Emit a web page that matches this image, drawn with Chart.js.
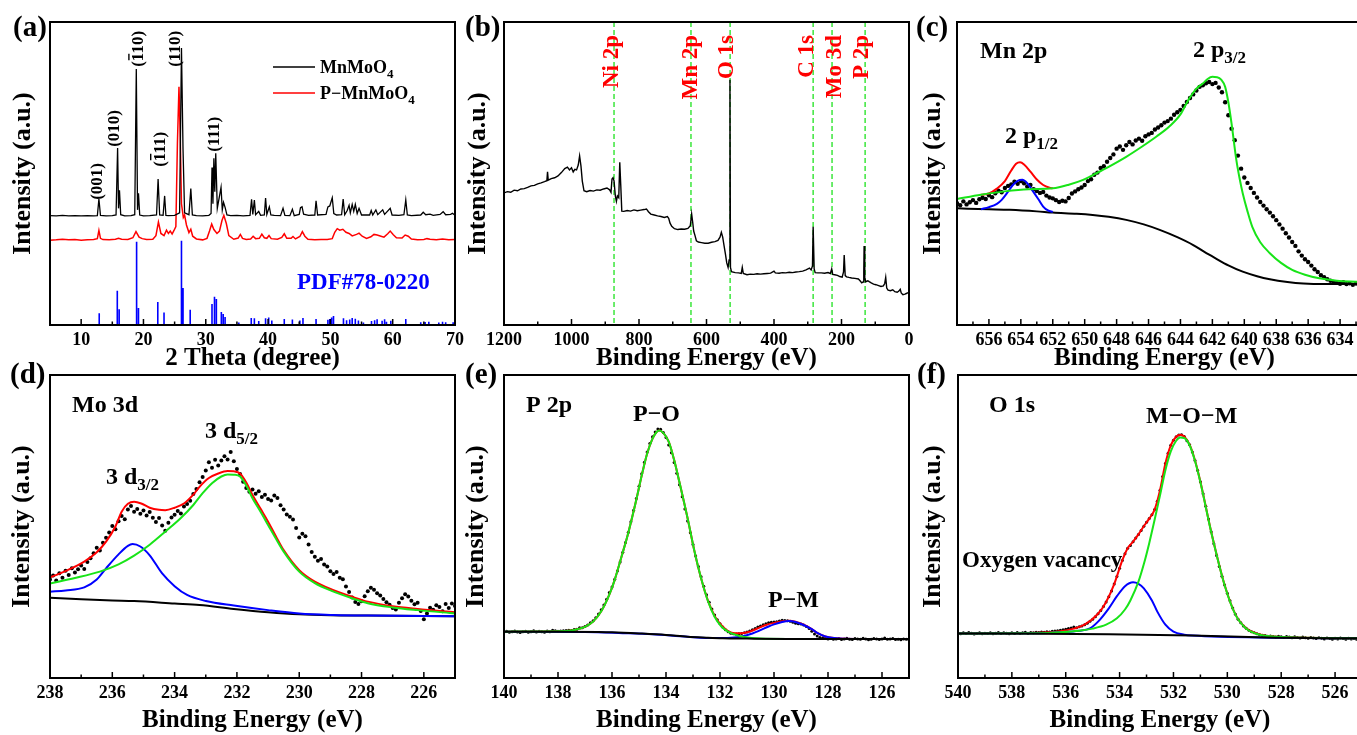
<!DOCTYPE html>
<html>
<head>
<meta charset="utf-8">
<title>MnMoO4 XRD / XPS</title>
<script src="https://cdn.jsdelivr.net/npm/chart.js@4.4.1/dist/chart.umd.min.js"></script>
<style>
  html, body { margin: 0; padding: 0; background: #fff; width: 1357px; height: 735px; overflow: hidden; position: relative; }
  canvas { position: absolute; }
</style>
</head>
<body>
<canvas id="panelA"></canvas>
<canvas id="panelB"></canvas>
<canvas id="panelC"></canvas>
<canvas id="panelD"></canvas>
<canvas id="panelE"></canvas>
<canvas id="panelF"></canvas>
<script>
// ---------- (a) XRD ----------
const mnmoo4Xrd = [[5,36.1],[6,36.0],[7,36.2],[8,36.0],[9,36.1],[10,36.0],[11,36.1],[12,36.0],[12.6,36.1],[12.85,41.6],[13.1,36.2],[14,36.0],[15,36.1],
  [15.6,36.3],[15.85,58.4],[16.0,38.5],[16.15,44.5],[16.35,36.4],[17,36.0],[18,36.1],[18.6,36.4],[18.85,84.5],[19.05,38],[19.2,43.5],[19.4,36.3],
  [20,36.0],[21,36.1],[22.1,36.3],[22.35,48.2],[22.6,36.3],[23.15,36.2],[23.4,42.6],[23.6,36.2],[24,36.1],[25,36.2],[25.8,37],[26.1,91.4],[26.35,58],
  [26.6,37],[27.3,36.4],[27.6,45],[27.85,36.3],[28.5,36.1],[29.5,36.0],[30.5,36.2],[30.85,36.8],[31.0,52],[31.15,40],[31.3,55],[31.45,44],[31.6,56.7],
  [31.85,38.5],[32.45,45.4],[32.65,38],[32.85,40.5],[33.1,38.8],[33.4,36.3],[34,36.1],[35,36.2],[36,36.0],[37.1,36.2],[37.35,41.5],[37.55,36.5],
  [37.8,41.2],[38.0,36.4],[38.5,37.5],[38.8,36.2],[39.4,36.3],[39.6,41.9],[39.8,36.5],[40.2,39],[40.45,36.3],[41,36.2],[42,36.1],[42.4,38.5],[42.7,36.2],
  [43.5,36.1],[43.9,38.2],[44.2,36.1],[45,36.5],[45.2,38.7],[45.45,39],[45.7,36.6],[46.5,36.2],[47.5,36.3],[47.7,41],[47.95,36.3],[49.3,36.5],[49.6,39],
  [49.9,39.3],[50.3,42],[50.55,36.8],[51,36.3],[51.8,36.4],[52.05,41.6],[52.3,36.4],[52.7,37.8],[53.0,39.5],[53.2,37],[53.5,39.8],[53.75,37.5],[54.0,39.8],
  [54.3,36.8],[54.6,38.5],[55,36.3],[56.3,36.3],[56.55,37.8],[56.8,36.3],[57.3,38],[57.6,36.4],[58.4,38],[58.7,36.5],[59.6,38.5],[59.9,36.3],[61,36.2],
  [61.8,36.4],[62.1,41.3],[62.35,36.3],[63,36.1],[64.5,36.3],[64.9,37.2],[65.3,36.4],[66,36.6],[66.5,36.2],[67.6,36.5],[68.1,37.4],[68.5,36.4],
  [69.3,36.5],[69.6,36.9],[70,36.2]];

const pMnmoo4Xrd = [[5,28.0],[6,28.1],[7,28.3],[8,28.1],[9,28.2],[10,28.0],[11,28.1],[12,28.2],[12.6,28.5],[12.85,31.2],[13.1,28.6],[13.5,28.2],
  [14.5,28.1],[15.5,28.3],[16,28.6],[16.5,28.3],[17.5,28.2],[18.3,28.8],[18.8,30.8],[19.3,29.0],[19.8,28.5],[20.5,28.2],[21.5,28.3],[22.0,29.5],
  [22.4,34.0],[22.8,30.2],[23.3,29.5],[23.7,31.3],[24.0,30.2],[24.3,31.0],[24.6,30.0],[24.9,31.2],[25.2,32.5],[25.45,60],[25.7,78.6],[25.9,62],
  [26.1,40],[26.4,35.5],[26.6,36.3],[26.9,33],[27.3,30.5],[27.6,31.6],[27.9,29.3],[28.5,28.4],[29.5,28.1],[30.2,28.6],[30.6,31],[30.95,33.3],
  [31.3,31.5],[31.8,30.2],[32.2,31],[32.6,34.5],[32.9,36.2],[33.3,33.5],[33.7,29.5],[34.5,28.3],[35.2,28.7],[35.55,29.9],[35.9,28.6],[36.5,28.2],
  [37.2,28.4],[37.6,29.3],[38.0,28.5],[38.6,28.6],[39.0,30.0],[39.4,28.8],[39.8,28.6],[40.15,29.5],[40.5,28.5],[41.5,28.3],[42.2,28.9],[42.6,30.1],
  [43.0,28.6],[43.7,28.6],[44.0,29.2],[44.4,28.4],[45.1,29.2],[45.5,30.8],[45.9,29.3],[46.4,28.3],[47.5,28.1],[48.5,28.2],[49.5,28.2],[50.3,28.5],
  [50.7,30.6],[51.1,31.8],[51.5,31.3],[52,31.6],[52.5,30.6],[53,30.2],[53.5,29.4],[54.2,29.9],[54.6,30.3],[55.1,29.3],[55.8,28.6],[56.5,29.1],
  [57.0,29.9],[57.5,29.7],[58.0,29.4],[58.6,29.0],[59.2,30.1],[59.6,31.0],[60.1,29.8],[60.6,28.8],[61.5,28.7],[62.0,29.7],[62.5,29.3],[63.0,28.4],
  [64,28.1],[65,28.2],[65.5,28.5],[66,28.3],[67,28.1],[68,28.4],[69,28.1],[70,28.2]];

// PDF#78-0220 reference lines
const pdfPos = [12.9,15.8,16.1,18.9,19.2,22.3,23.3,26.1,26.35,27.5,31.0,31.4,31.7,32.5,32.8,33.1,35.3,37.3,37.8,38.5,39.6,40.1,40.6,42.6,43.9,
  45.1,45.6,47.7,49.6,49.9,50.2,50.5,52.1,52.6,53.1,53.5,54.0,54.5,55.3,56.6,57.1,57.5,58.3,58.7,59.0,59.7,62.1,64.5,65.2,65.8,67.4,68.0,68.5,69.7];
const pdfInt = [3.9,11.3,5.2,27.5,5.6,7.6,4.1,27.8,12.2,5.0,6.9,9.3,8.6,4.3,3.6,2.6,0.8,2.3,2.2,1.3,2.2,2.5,1.5,2.0,1.8,
  1.5,2.3,2.0,1.7,2.0,2.5,3.0,2.2,1.6,1.8,2.3,2.1,1.5,0.8,1.3,1.6,1.9,1.4,1.9,1.1,1.4,2.0,0.9,1.0,1.1,0.8,1.1,0.9,0.9];

const xrdLabels = [10, 20, 30, 40, 50, 60, 70];
const xrdMinor = [15, 25, 35, 45, 55, 65];
const hklTags = [
  {x: 12.6, y: 41.3, t: '(001)', bar: -1},
  {x: 15.4, y: 58.8, t: '(010)', bar: -1},
  {x: 19.3, y: 85.2, t: '(110)', bar: 1},
  {x: 22.8, y: 52.2, t: '(111)', bar: 1},
  {x: 25.2, y: 85.2, t: '(110)', bar: -1},
  {x: 31.4, y: 57.2, t: '(111)', bar: -1}
];

// ---------- (b) survey ----------
const survey = [[1200,43.6],[1190,44.0],[1180,43.8],[1170,44.5],[1160,44.3],[1150,44.9],[1140,45.0],[1130,45.4],[1120,45.9],[1110,46.1],[1100,46.6],
  [1090,46.9],[1080,47.3],[1073,47.6],[1071,50.6],[1069,47.8],[1060,48.3],[1050,48.6],[1040,49.2],[1030,50.3],[1020,51.6],[1012,52.1],[1006,51.2],
  [1000,51.9],[995,50.5],[990,51.4],[985,51.2],[980,52.8],[976,55.8],[972,52.5],[968,47.5],[963,44.3],[955,44.0],[945,44.4],[935,44.2],[925,44.6],
  [915,44.5],[905,44.9],[895,45.2],[887,44.6],[883,43.8],[880,48.2],[877,48.6],[874,47.6],[870,42.5],[867,40.8],[864,42.6],[860,42.0],[857,53.7],
  [854,46.0],[851,37.6],[845,37.5],[835,37.8],[825,37.6],[815,38.0],[805,37.7],[795,37.9],[785,38.1],[778,38.3],[772,37.4],[765,36.6],[755,36.3],
  [745,36.0],[735,35.8],[725,35.5],[716,35.8],[712,35.2],[708,33.6],[703,32.6],[695,31.8],[685,31.5],[675,31.7],[665,31.6],[655,31.9],[648,32.8],
  [644,36.6],[641,34.0],[638,31.0],[634,29.5],[630,27.8],[624,27.4],[615,27.2],[605,27.0],[595,27.0],[585,27.3],[575,27.5],[566,27.9],[560,29.0],
  [556,30.6],[552,29.0],[548,26.2],[544,23.5],[540,20.5],[536,19.0],[533,21.5],[530.5,80.9],[529,19.0],[526,17.6],[515,17.3],[505,17.2],[497,17.0],
  [494,19.0],[491,17.0],[480,16.6],[470,16.8],[460,16.7],[450,16.9],[440,16.8],[430,16.9],[420,17.0],[410,17.1],[400,17.8],[396,17.2],[385,17.1],
  [375,17.3],[365,17.2],[355,17.4],[345,17.3],[335,17.5],[325,17.6],[315,17.8],[305,18.2],[295,18.8],[290,18.2],[286,19.5],[284,32.4],[281,18.5],
  [278,17.3],[270,17.2],[260,17.2],[250,17.1],[240,17.3],[233,17.0],[229,18.5],[226,16.7],[220,16.6],[212,16.4],[205,16.0],[198,15.8],[194,17.5],
  [192,23.1],[189,16.3],[185,15.9],[178,15.7],[170,15.5],[160,15.4],[150,15.2],[145,14.6],[140,13.9],[136,14.2],[134,17.5],[133,26.1],[131,15.5],
  [128,14.3],[122,14.6],[118,14.3],[112,13.9],[105,13.5],[98,13.3],[90,13.0],[83,12.7],[76,12.9],[72,13.7],[69,15.7],[66,12.2],[62,11.5],[55,11.3],
  [48,11.6],[42,11.0],[35,10.8],[30,11.2],[26,11.8],[23,10.6],[18,10.0],[12,10.2],[8,10.4],[4,10.6],[0,10.8]];
const surveyLines = [874, 646, 530, 284, 228, 130];
const surveyTags = [{e: 880, t: 'Ni 2p'}, {e: 646, t: 'Mn 2p'}, {e: 539, t: 'O 1s'}, {e: 302, t: 'C 1s'}, {e: 219, t: 'Mo 3d'}, {e: 139, t: 'P 2p'}];
const surveyLabels = [1200, 1000, 800, 600, 400, 200, 0];
const surveyMinor = [1100, 900, 700, 500, 300, 100];

// ---------- (c) Mn 2p ----------
const mnDots = [40.2,39.5,40.8,39.8,40.5,41.2,40.3,41.5,42.0,41.6,
  42.8,42.2,43.5,44.3,43.8,45.2,45.9,46.4,47.3,46.6,
  47.5,46.8,45.7,46.2,44.8,44.2,43.6,43.9,42.7,42.1,
  41.8,41.2,40.6,41.0,40.8,41.9,43.4,44.1,44.8,45.4,
  46.2,47.5,48.1,49.6,50.3,51.8,52.4,53.9,55.1,56.3,
  58.2,58.9,57.8,59.3,60.4,59.6,60.9,61.5,60.8,62.3,
  62.9,63.4,64.5,65.2,65.9,66.8,67.3,68.1,69.4,70.2,
  71.0,72.3,73.6,74.9,76.1,77.4,78.6,79.1,79.8,80.2,
  79.5,79.9,78.4,76.8,73.5,69.2,64.8,61.0,55.9,51.6,
  48.7,46.9,45.2,43.6,42.1,40.6,39.4,38.2,37.1,35.9,
  34.6,33.2,31.8,30.3,28.9,27.4,26.1,24.3,22.9,21.7,
  20.8,19.6,18.4,17.5,16.4,15.8,15.1,14.6,14.2,13.9,
  13.6,14.1,13.5,13.8,13.3,13.7];
const mnBg = [[658,38.5],[656,38.2],[654.7,38.0],[653,37.5],[652,37.1],[650.5,36.7],[649.5,36.3],[648.5,35.7],[647.4,34.7],[646.3,33.2],
  [645.3,31.4],[644.2,29.0],[643.2,26.4],[642.5,24.1],[641.8,22.0],[641,19.7],[640.1,17.6],[639.2,16.1],[638.4,15.1],[637.3,14.2],[636.3,13.7],
  [635,13.5],[632,13.5]];
const mnP32 = [[658,41.6],[656.5,43.0],[655,44.1],[653.5,44.8],[652,45.1],[651,46.3],[650.1,47.9],[649.3,50.0],[648.5,52.2],[647.4,55.5],
  [646.4,58.9],[645.5,62.2],[644.7,65.5],[644,69.5],[643.5,74.3],[643,78.0],[642.6,79.7],[642.3,81.2],[642.0,81.9],[641.7,81.8],[641.45,81.0],
  [641.2,78.6],[641.0,73.5],[640.8,66.5],[640.5,54.5],[640.3,48.5],[640.1,43.5],[639.8,37.5],[639.5,32.4],[639,27.3],[638.4,23.7],[637.7,20.5],
  [637.0,18.2],[636.2,16.6],[635.3,15.4],[634.2,14.6],[633,14.3],[632,14.1]];
const mnP12 = [[656.5,38.2],[656,38.9],[655.5,40.0],[655.2,41.3],[654.8,44.0],[654.5,46.2],[654.2,47.6],[653.9,47.9],[653.6,46.8],[653.3,44.6],
  [652.9,41.5],[652.6,39.1],[652.3,37.8],[652,37.3]];
const mnSum = [[656.5,43.0],[656,43.4],[655.5,45.0],[655,47.5],[654.6,51],[654.3,53.2],[654.05,53.7],[653.8,53.0],[653.4,50.6],[653.0,48.0],
  [652.6,46.2],[652.2,45.3],[652.0,45.1]];
const mnLabels = [656, 654, 652, 650, 648, 646, 644, 642, 640, 638, 636, 634];
const mnMinor = [657, 655, 653, 651, 649, 647, 645, 643, 641, 639, 637, 635, 633];

// ---------- (d) Mo 3d ----------
const moDots = [32.5,33.8,32.2,34.6,33.1,35.4,34.0,36.2,34.8,35.9,
  37.1,36.0,38.3,39.5,41.2,43.0,42.1,44.6,46.3,48.0,
  50.2,49.1,51.7,53.5,52.4,55.6,56.8,54.9,55.8,54.2,
  55.3,53.6,54.8,52.9,51.5,52.8,50.3,48.6,51.2,53.0,
  53.9,55.1,54.3,56.6,57.4,58.5,60.7,62.4,64.6,66.3,
  68.5,71.2,69.4,72.0,70.1,71.8,73.2,72.1,74.6,71.5,
  69.0,67.3,64.8,62.7,61.5,62.2,60.8,61.6,59.7,60.5,
  59.1,58.6,60.2,59.4,57.0,55.6,54.0,53.2,52.3,49.5,
  46.4,47.6,46.8,44.1,41.6,40.0,38.7,39.3,37.5,36.8,
  35.2,34.3,35.0,33.1,32.6,30.2,28.4,26.6,25.1,24.4,
  25.3,27.0,28.6,29.8,29.1,28.0,27.2,26.1,25.0,24.2,
  23.1,22.6,24.8,26.3,27.6,26.9,25.5,24.3,24.8,22.1,
  19.4,21.3,23.2,22.5,24.0,23.4,22.0,24.4,23.1,24.6,
  23.8];
const moBg = [[238,26.5],[237,26.0],[236,25.6],[235.3,25.4],[234,24.6],[233.2,24.1],[232.1,22.8],[231,21.7],[230,21.0],[229,20.7],[227.8,20.6],[225,20.4]];
const moD32 = [[238,28.5],[237.5,28.9],[236.9,29.9],[236.5,32.5],[236.2,36.2],[235.8,40.8],[235.5,43.6],[235.35,44.2],[235.1,43.4],[234.8,40.5],
  [234.4,34.5],[234,30.3],[233.6,27.4],[233,25.4],[232.1,23.9],[231,22.4],[230,21.3],[228.9,20.8],[227.8,20.6],[225,20.4]];
const moD52 = [[238,31.2],[237.2,33.0],[236.4,35.1],[235.8,37.5],[235.3,40.4],[234.8,44.0],[234.3,48.3],[233.8,52.8],[233.4,57.1],[233.1,61.0],
  [232.8,64.3],[232.5,66.5],[232.3,67.2],[232.1,67.1],[231.9,66.5],[231.7,63.5],[231.5,59.3],[231.25,55.0],[231.0,50.5],[230.75,46.0],[230.5,41.7],
  [230.0,35.1],[229.5,31.3],[228.9,28.5],[228.3,26.3],[227.8,24.7],[227,23.3],[226.2,22.4],[225,21.3]];
const moSum = [[238,33.2],[237.5,35.3],[236.9,38.4],[236.5,41.5],[236.2,45.0],[235.9,50],[235.7,54.9],[235.5,57.5],[235.3,58.2],[235.05,57.5],
  [234.8,56.2],[234.5,55.5],[234.3,55.4],[234.0,56.2],[233.7,57.6],[233.4,60.5],[233.2,63.1],[232.9,66],[232.6,67.5],[232.3,68.3],[232.1,68.2],
  [231.9,67.5],[231.7,64.5],[231.5,60.4],[231.25,56],[231.0,51.6],[230.75,46.8],[230.5,42.2],[230.0,35.6],[229.5,31.8],[228.9,29.0],[228.3,26.8],
  [227.8,25.2],[227,23.7],[226.2,22.8],[225,21.7]];
const moLabels = [238, 236, 234, 232, 230, 228, 226];
const moMinor = [237, 235, 233, 231, 229, 227, 225];

// ---------- (e) P 2p ----------
const pDots = [15.2,15.4,15.1,15.3,15.5,15.2,15.0,15.3,15.4,15.1,
  15.3,15.6,15.2,15.4,15.3,15.1,15.5,15.3,15.8,15.6,
  15.4,15.5,15.6,15.7,15.8,15.7,16.0,16.1,16.6,16.6,
  17.0,17.5,18.2,18.9,19.9,21.1,22.5,24.1,26.0,28.2,
  30.0,32.6,35.3,38.3,41.5,44.7,48.0,51.6,55.4,59.2,
  63.3,67.4,71.2,74.6,77.4,79.6,81.2,82.2,82.1,81.0,
  79.4,76.9,74.3,71.1,67.6,63.8,59.8,55.8,51.8,47.9,
  44.1,40.3,36.8,33.4,30.3,27.5,25.0,22.8,20.8,19.2,
  17.9,16.8,15.9,15.3,14.8,14.6,14.5,14.6,14.7,14.9,
  15.2,15.5,15.9,16.3,16.8,17.2,17.6,17.9,18.2,18.4,
  18.5,18.6,18.8,19.1,19.0,18.9,18.7,18.4,18.1,17.9,
  17.8,17.5,17.0,16.3,15.4,14.5,13.9,13.4,13.2,13.1,
  12.9,13.1,12.8,12.9,13.0,12.7,12.9,13.1,12.8,12.7,
  13.0,12.9,12.8,13.1,12.9,12.6,12.8,13.0,12.9,12.7,
  12.9,13.2,12.8,12.9,13.0,12.7,12.8,12.6,12.9,12.8,
  12.6];
const pBg = [[140,15.3],[138,15.3],[136.5,15.2],[136,15.1],[135,14.7],[134,14.2],[133.2,13.6],[132.5,13.3],[131.9,13.1],[131,13.0],[129.5,12.9],[125,12.9]];
const pPO = [[140,15.3],[138,15.4],[137.5,15.7],[137.2,16.3],[137,16.9],[136.7,18.6],[136.4,22.0],[136.1,27.5],[135.9,32.4],[135.6,41.5],
  [135.4,47.8],[135.1,58.8],[134.9,66.8],[134.7,74.0],[134.5,79.0],[134.35,81.2],[134.25,81.7],[134.1,80.9],[133.9,78.0],[133.7,72.0],
  [133.5,64.5],[133.2,52.7],[132.95,42],[132.7,32.9],[132.45,25.5],[132.2,20.2],[131.95,17],[131.7,15.3],[131.4,14.2],[131.1,13.5],
  [130.5,13.0],[129.5,12.9],[125,12.9]];
const pPM = [[140,15.3],[137,15.2],[135.6,14.8],[134.5,14.4],[133.2,13.6],[132.2,13.2],[131.6,13.3],[131.2,13.7],[130.8,14.7],[130.5,15.8],
  [130.2,17.0],[130.0,17.7],[129.7,18.5],[129.45,18.8],[129.2,18.5],[128.9,17.5],[128.6,16.1],[128.4,14.9],[128.1,13.7],[127.7,13.1],[127,12.9],[125,12.9]];
const pSum = [[140,15.3],[138,15.4],[137.5,15.7],[137.2,16.3],[137,16.9],[136.7,18.6],[136.4,22.0],[136.1,27.5],[135.9,32.4],[135.6,41.5],
  [135.4,47.8],[135.1,58.8],[134.9,66.8],[134.7,74.0],[134.5,79.0],[134.35,81.2],[134.25,81.7],[134.1,80.9],[133.9,78.0],[133.7,72.0],
  [133.5,64.5],[133.2,52.7],[132.95,42],[132.7,32.9],[132.45,25.6],[132.2,20.5],[131.95,17.4],[131.7,15.5],[131.45,14.8],[131.2,14.8],
  [130.9,15.3],[130.6,16.4],[130.3,17.5],[130.0,18.2],[129.7,18.7],[129.45,18.9],[129.2,18.6],[128.9,17.6],[128.6,16.1],[128.4,14.9],
  [128.1,13.7],[127.7,13.1],[127,12.9],[125,12.9]];
const pLabels = [140, 138, 136, 134, 132, 130, 128, 126];
const pMinor = [139, 137, 135, 133, 131, 129, 127, 125];

// ---------- (f) O 1s ----------
const oDots = [14.8,14.6,14.9,14.7,15.0,14.8,14.5,14.7,14.9,14.6,
  14.8,14.7,14.9,14.6,14.8,15.0,14.7,14.9,14.8,14.6,
  14.9,14.7,15.0,14.8,14.9,15.1,14.8,15.0,14.9,15.1,
  15.0,15.2,15.1,15.3,15.2,15.4,15.5,15.6,15.8,15.9,
  16.1,16.3,16.5,16.8,16.6,16.9,17.2,17.6,18.1,18.7,
  19.4,20.2,21.2,22.3,23.6,25.1,26.8,28.7,31.0,33.5,
  36.2,38.8,41.0,42.8,43.7,45.0,46.2,47.4,48.7,50.1,
  51.4,52.6,53.9,55.6,58.3,62.0,66.5,70.8,74.2,76.8,
  78.5,79.6,80.2,80.3,79.7,78.3,77.0,74.6,71.8,68.5,
  64.8,60.8,56.7,52.5,48.3,44.3,40.4,36.8,33.6,30.7,
  28.0,25.5,23.1,21.0,19.4,18.2,17.2,16.4,15.8,15.3,
  14.9,14.6,14.3,14.1,14.0,13.8,13.9,13.7,13.5,13.8,
  13.6,13.4,13.7,13.5,13.3,13.6,13.4,13.2,13.5,13.3,
  13.1,13.4,13.2,13.0,13.3,13.1,12.9,13.2,13.0,12.8,
  13.1,12.9,13.2,13.0,12.8,13.1,12.9,13.0,12.8,13.1,
  12.9];
const oBg = [[540,14.7],[537,14.6],[534.4,14.4],[531.3,14.0],[528.2,13.3],[525,13.1]];
const oMOM = [[540,14.7],[537,14.8],[536.2,15.1],[535.5,15.6],[535,16.3],[534.5,17.6],[534.1,19.7],[533.8,22.6],[533.6,25.6],[533.3,31.8],
  [533.1,37.6],[532.9,44.5],[532.7,52.2],[532.5,60.3],[532.3,68.6],[532.1,74.8],[531.9,78.3],[531.75,79.4],[531.6,79.2],[531.4,76.8],
  [531.2,71.6],[531.0,64.6],[530.6,48.2],[530.1,30.6],[529.7,20.9],[529.3,16.3],[528.9,14.5],[528.2,13.6],[525,13.1]];
const oVac = [[540,14.7],[537,14.8],[536.2,15.1],[535.5,15.6],[535.1,16.4],[534.8,18.6],[534.4,23],[534.1,27],[533.8,30.3],[533.5,31.6],
  [533.3,31.1],[533.1,29.6],[532.8,25.6],[532.6,21.9],[532.3,17.6],[532.0,15.3],[531.6,14.3],[531.3,14.0],[528,13.3],[525,13.1]];
const oSum = [[540,14.7],[537,14.9],[536.2,15.4],[535.7,16.3],[535.3,17.6],[534.8,21.2],[534.5,25.1],[534.2,31.0],[533.9,38.8],[533.7,42.8],
  [533.5,45.0],[533.3,47.4],[533.1,50.1],[532.9,52.6],[532.7,55.6],[532.5,62.0],[532.3,70.8],[532.1,76.8],[531.9,79.6],[531.75,80.3],
  [531.6,79.7],[531.4,77.0],[531.2,71.8],[531.0,64.8],[530.6,48.3],[530.1,30.7],[529.7,21.0],[529.3,16.4],[528.9,14.6],[528.2,13.6],[525,13.1]];
const oLabels = [540, 538, 536, 534, 532, 530, 528, 526];
const oMinor = [539, 537, 535, 533, 531, 529, 527, 525];

// ---------- drawing helpers ----------
const SERIF = "'Liberation Serif', 'Times New Roman', serif";
const GREEN = 'rgb(24,228,24)';
const RED = '#ff0000';
const BLUE = '#0000ff';

const xy = list => list.map(([x, y]) => ({x, y}));
const dotsFrom = (x0, step, vals) => vals.map((y, i) => ({x: +(x0 - i * step).toFixed(2), y}));

function curve(data, color, width) {
  return {data: xy(data), borderColor: color, borderWidth: width || 2, pointRadius: 0,
    cubicInterpolationMode: 'monotone', fill: false};
}
function trace(data, color, width) {
  return {data: data, borderColor: color, borderWidth: width, pointRadius: 0, tension: 0, fill: false};
}
function scatter(data, r) {
  return {data: data, showLine: false, pointRadius: r, pointBackgroundColor: '#000', pointBorderWidth: 0, borderColor: '#000'};
}

// text with an optional subscript tail
function richText(ctx, x, y, main, sub, size, color) {
  ctx.fillStyle = color || '#000';
  ctx.textAlign = 'left';
  ctx.textBaseline = 'alphabetic';
  ctx.font = 'bold ' + size + 'px ' + SERIF;
  ctx.fillText(main, x, y);
  if (sub) {
    const w = ctx.measureText(main).width;
    ctx.font = 'bold ' + Math.round(size * 0.7) + 'px ' + SERIF;
    ctx.fillText(sub, x + w, y + size * 0.25);
  }
}

// vertical text reading bottom-to-top, optional overbar on one character
function upText(ctx, px, py, text, size, color, align, bar) {
  ctx.save();
  ctx.translate(px, py);
  ctx.rotate(-Math.PI / 2);
  ctx.font = 'bold ' + size + 'px ' + SERIF;
  ctx.fillStyle = color;
  ctx.textAlign = align;
  ctx.textBaseline = 'alphabetic';
  const off = size * 0.25;
  ctx.fillText(text, 0, off);
  if (bar >= 0) {
    const w0 = ctx.measureText(text.slice(0, bar)).width;
    const w1 = ctx.measureText(text[bar]).width;
    ctx.strokeStyle = color;
    ctx.lineWidth = 1.4;
    ctx.beginPath();
    ctx.moveTo(w0 + 1, off - size * 0.85);
    ctx.lineTo(w0 + w1 - 1, off - size * 0.85);
    ctx.stroke();
  }
  ctx.restore();
}

// frame, inward ticks, panel letter and in-plot annotations
function deco(p) {
  return {
    id: 'deco',
    beforeDatasetsDraw(chart) {
      if (!p.guides) return;
      const {ctx, chartArea: a, scales: {x}} = chart;
      ctx.save();
      ctx.strokeStyle = 'rgb(60,230,60)';
      ctx.lineWidth = 1.5;
      ctx.setLineDash([5, 3]);
      p.guides.forEach(e => {
        const px = x.getPixelForValue(e);
        ctx.beginPath();
        ctx.moveTo(px, a.top);
        ctx.lineTo(px, a.bottom);
        ctx.stroke();
      });
      ctx.restore();
    },
    afterDatasetsDraw(chart) {
      const {ctx, chartArea: a, scales: {x}} = chart;
      ctx.save();
      ctx.strokeStyle = '#000';
      ctx.lineWidth = 1.5;
      ctx.beginPath();
      p.labels.forEach(v => { const px = x.getPixelForValue(v); ctx.moveTo(px, a.bottom); ctx.lineTo(px, a.bottom - 6); });
      p.minor.forEach(v => { const px = x.getPixelForValue(v); ctx.moveTo(px, a.bottom); ctx.lineTo(px, a.bottom - 3.5); });
      ctx.stroke();
      ctx.lineWidth = 2;
      ctx.strokeRect(a.left, a.top, a.right - a.left, a.bottom - a.top);

      ctx.fillStyle = '#000';
      ctx.font = 'bold 29px ' + SERIF;
      ctx.textAlign = 'left';
      ctx.textBaseline = 'alphabetic';
      ctx.fillText(p.letter, a.left + p.letterAt[0], a.top + p.letterAt[1]);

      (p.notes || []).forEach(n => richText(ctx, a.left + n.dx, a.top + n.dy, n.text, n.sub, n.size || 24, n.color));
      if (p.extra) p.extra(chart);
      ctx.restore();
    }
  };
}

function makePanel(id, box, p) {
  const cv = document.getElementById(id);
  const axisH = box.t < 100 ? 49 : 58;
  const left = box.l - 50, top = box.t - 22;
  cv.width = box.r - left + 30;
  cv.height = box.b - top + axisH;
  cv.style.left = left + 'px';
  cv.style.top = top + 'px';
  return new Chart(cv, {
    type: 'line',
    data: {datasets: p.datasets},
    options: {
      responsive: false,
      animation: false,
      events: [],
      layout: {padding: {left: 4, top: 22, right: 30, bottom: 0}},
      plugins: {legend: {display: false}, tooltip: {enabled: false}},
      scales: {
        x: {
          type: 'linear', bounds: 'data', min: p.range[0], max: p.range[1], reverse: !!p.reverse,
          grid: {display: false, drawTicks: false},
          border: {display: false},
          afterBuildTicks: s => { s.ticks = p.labels.map(v => ({value: v})); },
          afterFit: s => { s.height = axisH; },
          ticks: {autoSkip: false, maxRotation: 0, padding: 5, color: '#000',
            font: {family: SERIF, size: 18, weight: 'bold'}, callback: v => String(v)},
          title: {display: true, text: p.xTitle, color: '#000', padding: 0,
            font: {family: SERIF, size: 25, weight: 'bold'}}
        },
        y: {
          type: 'linear', min: 0, max: 100,
          grid: {display: false, drawTicks: false},
          border: {display: false},
          ticks: {display: false},
          afterFit: s => { s.width = 46; },
          title: {display: true, text: 'Intensity (a.u.)', color: '#000', padding: {top: p.yPad, bottom: 0},
            font: {family: SERIF, size: 26, weight: 'bold'}}
        }
      }
    },
    plugins: [deco(p)]
  });
}

const BE = 'Binding Energy (eV)';

// (a) XRD patterns
makePanel('panelA', {l: 50, t: 22, r: 455, b: 325}, {
  range: [5, 70], labels: xrdLabels, minor: xrdMinor, xTitle: '2 Theta (degree)', yPad: 4,
  letter: '(a)', letterAt: [-37, 14],
  datasets: [
    trace(xy(mnmoo4Xrd), '#000', 1.3),
    trace(xy(pMnmoo4Xrd), RED, 1.5),
    trace(pdfPos.flatMap((p, i) => [{x: p, y: 0}, {x: p, y: pdfInt[i]}, {x: p, y: 0}]), BLUE, 1.6)
  ],
  extra(chart) {
    const {ctx, chartArea: a, scales: {x, y}} = chart;
    ctx.lineWidth = 1.5;
    [['#000', 45, 'MnMoO'], [RED, 71, 'P\u2212MnMoO']].forEach(([c, dy, t]) => {
      ctx.strokeStyle = c;
      ctx.beginPath();
      ctx.moveTo(a.left + 223, a.top + dy);
      ctx.lineTo(a.left + 265, a.top + dy);
      ctx.stroke();
      richText(ctx, a.left + 270, a.top + dy + 6, t, '4', 18, '#000');
    });
    richText(ctx, a.left + 247, a.top + 267, 'PDF#78-0220', null, 23, BLUE);
    hklTags.forEach(h => upText(ctx, x.getPixelForValue(h.x), y.getPixelForValue(h.y), h.t, 17, '#000', 'left', h.bar));
  }
});

// (b) survey spectrum
makePanel('panelB', {l: 504, t: 22, r: 909, b: 325}, {
  range: [0, 1200], reverse: true, labels: surveyLabels, minor: surveyMinor, xTitle: BE, yPad: 5,
  letter: '(b)', letterAt: [-39, 14], guides: surveyLines,
  datasets: [trace(xy(survey), '#000', 1.4)],
  extra(chart) {
    const {ctx, chartArea: a, scales: {x}} = chart;
    surveyTags.forEach(s => upText(ctx, x.getPixelForValue(s.e), a.top + 13, s.t, 23, RED, 'right', -1));
  }
});

// (c) Mn 2p
makePanel('panelC', {l: 957, t: 22, r: 1372, b: 325}, {
  range: [632, 658], reverse: true, labels: mnLabels, minor: mnMinor, xTitle: BE, yPad: 7,
  letter: '(c)', letterAt: [-41, 14],
  notes: [
    {dx: 23, dy: 36, text: 'Mn 2p'},
    {dx: 236, dy: 35, text: '2 p', sub: '3/2'},
    {dx: 48, dy: 121, text: '2 p', sub: '1/2'}
  ],
  datasets: [
    curve(mnP32, GREEN),
    curve(mnP12, BLUE),
    curve(mnSum, RED),
    curve(mnBg, '#000'),
    scatter(dotsFrom(658, 0.2, mnDots), 2.2)
  ]
});

// (d) Mo 3d
makePanel('panelD', {l: 50, t: 375, r: 455, b: 678}, {
  range: [225, 238], reverse: true, labels: moLabels, minor: moMinor, xTitle: BE, yPad: 3,
  letter: '(d)', letterAt: [-40, 8],
  notes: [
    {dx: 22, dy: 37, text: 'Mo 3d'},
    {dx: 155, dy: 63, text: '3 d', sub: '5/2'},
    {dx: 56, dy: 109, text: '3 d', sub: '3/2'}
  ],
  datasets: [
    curve(moD52, GREEN),
    curve(moD32, BLUE),
    curve(moSum, RED),
    curve(moBg, '#000'),
    scatter(dotsFrom(238, 0.1, moDots), 2.0)
  ]
});

// (e) P 2p
makePanel('panelE', {l: 504, t: 375, r: 909, b: 678}, {
  range: [125, 140], reverse: true, labels: pLabels, minor: pMinor, xTitle: BE, yPad: 3,
  letter: '(e)', letterAt: [-39, 8],
  notes: [
    {dx: 22, dy: 37, text: 'P 2p'},
    {dx: 129, dy: 46, text: 'P\u2212O'},
    {dx: 264, dy: 232, text: 'P\u2212M'}
  ],
  datasets: [
    curve(pBg, '#000'),
    curve(pPO, GREEN),
    curve(pPM, BLUE),
    curve(pSum, RED),
    scatter(dotsFrom(140, 0.1, pDots), 1.5)
  ]
});

// (f) O 1s
makePanel('panelF', {l: 958, t: 375, r: 1362, b: 678}, {
  range: [525, 540], reverse: true, labels: oLabels, minor: oMinor, xTitle: BE, yPad: 6,
  letter: '(f)', letterAt: [-41, 8],
  notes: [
    {dx: 31, dy: 37, text: 'O 1s'},
    {dx: 188, dy: 48, text: 'M\u2212O\u2212M'},
    {dx: 4, dy: 192, text: 'Oxygen vacancy', size: 23}
  ],
  datasets: [
    curve(oBg, '#000'),
    curve(oMOM, GREEN),
    curve(oVac, BLUE),
    curve(oSum, RED),
    scatter(dotsFrom(540, 0.1, oDots), 1.5)
  ]
});
</script>
</body>
</html>
